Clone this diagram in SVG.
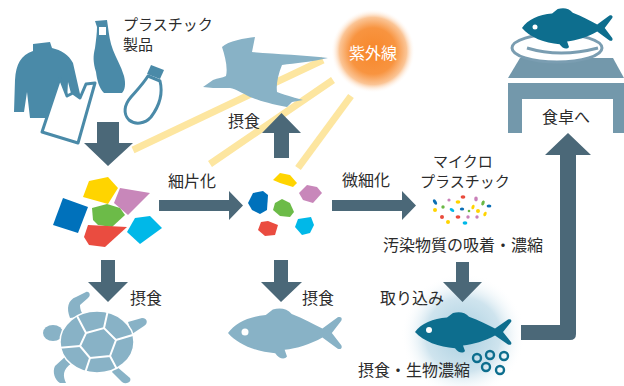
<svg xmlns="http://www.w3.org/2000/svg" width="624" height="386" viewBox="0 0 624 386">
  <defs>
    <style>
      text { font-family: "Noto Sans CJK JP", "Noto Sans", sans-serif; fill: #2b2b2b; }
      .lbl { font-size: 16px; }
      .sm { font-size: 15px; }
      .arrow { fill: #4b6878; }
      .ray { stroke: #fde6a0; stroke-width: 7; stroke-linecap: butt; }
      .prod { fill: #4a8aa8; }
      .prodline { fill: #fff; stroke: #4a8aa8; stroke-width: 3; stroke-linejoin: round; }
      .pale { fill: #88b2c6; }
      .teal { fill: #0d6e8e; }
      .eye { fill: #fff; }
      .bubble { fill: none; stroke: #0d6e8e; stroke-width: 2.4; }
    </style>
    <radialGradient id="sunGrad" cx="0.5" cy="0.5" r="0.5">
      <stop offset="0" stop-color="#f7872a"/>
      <stop offset="0.55" stop-color="#f89440"/>
      <stop offset="0.8" stop-color="#fbc596"/>
      <stop offset="1" stop-color="#ffffff" stop-opacity="0"/>
    </radialGradient>
    <radialGradient id="glowGrad" cx="0.5" cy="0.5" r="0.5">
      <stop offset="0" stop-color="#a9cfe0"/>
      <stop offset="0.6" stop-color="#cfe4ee"/>
      <stop offset="1" stop-color="#ffffff" stop-opacity="0"/>
    </radialGradient>
    <!-- fish silhouette facing left, nose at origin -->
    <path id="fish" d="M0,0 C6,-9 18,-15 32,-16 L38,-21 C44,-23 50,-22 54,-17 C64,-13 72,-8 80,-4 L93,-14 C96,-15 97,-13 96,-11 L88,0 L96,11 C97,13 96,15 93,14 L80,4 C70,10 58,14 48,15 L50,21 C48,24 43,23 40,18 C24,17 8,10 0,0 Z"/>
    <clipPath id="shellClip"><ellipse cx="97" cy="342" rx="37" ry="31"/></clipPath>
  </defs>

  <!-- sunlight rays -->
  <g id="rays">
    <line class="ray" x1="133" y1="150" x2="323" y2="60"/>
    <line class="ray" x1="210" y1="164" x2="333" y2="80"/>
    <line class="ray" x1="298" y1="168" x2="351" y2="96"/>
  </g>

  <g id="sun">
    <circle cx="373" cy="51" r="42" fill="url(#sunGrad)"/>
    <text x="373" y="59" font-size="16" text-anchor="middle" style="fill:#fff">紫外線</text>
  </g>

  <g id="products">
    <!-- turtleneck shirt -->
    <path class="prod" d="M33,44 L50,42 L52,48 C61,50 69,55 73,63 L80,94 L80,101 L73,101 L68,82 L66,118 L30,118 L27,92 L24,112 L14,112 L15,80 C16,64 21,55 33,51 Z"/>
    <!-- carrier bag -->
    <path class="prodline" d="M60,78 L67,96 L73,93 L80,98 L86,84 L95,83 L78,143 L42,132 Z"/>
    <!-- soda bottle -->
    <path class="prod" d="M95,21 L107,20 L108,27 C109,35 110,42 113,50 C116,58 121,66 124,76 C126,84 125,90 122,93 L104,93 C99,88 97,80 96,72 C93,62 93,56 95,48 C96,40 97,33 97,27 Z"/>
    <rect x="99" y="27" width="7" height="8" fill="#fff"/>
    <!-- PET bottle -->
    <path class="prodline" d="M148,76 L160,81 C163,93 160,105 151,117 C145,124 135,125 129,120 C123,114 124,105 131,97 C138,89 143,84 148,76 Z" stroke-width="3.5"/>
    <polygon class="prod" points="151,65 164,70 160,79 147,74"/>
    <text class="sm" x="123" y="30">プラスチック</text>
    <text class="sm" x="123" y="50">製品</text>
  </g>

  <g id="seagull">
    <path class="pale" d="M203,87 L213,80 C218,78 222,78 226,76 C228,68 225,56 222,47 C228,41 245,38 255,37 L252,52 C275,54 305,55 328,58 C312,62 295,63 282,65 C278,75 276,84 277,92 C288,96 296,98 303,100 L292,102 L287,107 C270,104 258,100 250,97 C242,93 236,89 230,88 L213,88 Z"/>
  </g>

  <g id="fragments">
    <polygon fill="#ffd400" points="89,181 108,177 118,188 108,204 83,197"/>
    <polygon fill="#c887ba" points="120,188 150,193 128,215 114,203"/>
    <polygon fill="#0071bb" points="63,198 88,207 78,233 53,225"/>
    <polygon fill="#6cbb48" points="92,208 107,204 120,208 125,215 112,227 98,225 93,220"/>
    <polygon fill="#ea4c40" points="88,225 127,227 105,247 89,245 84,237"/>
    <polygon fill="#00b8e8" points="135,218 150,216 162,228 140,244 127,232"/>
  </g>

  <g id="small-fragments">
    <polygon fill="#ffd400" points="280,173 290,175 297,183 293,187 280,183 273,180"/>
    <polygon fill="#c887ba" points="307,185 317,187 322,193 313,203 303,200 299,193"/>
    <polygon fill="#0071bb" points="253,193 263,191 268,195 267,210 260,214 252,210 248,203"/>
    <polygon fill="#6cbb48" points="275,203 282,199 290,203 294,212 290,217 280,216 273,210"/>
    <polygon fill="#ea4c40" points="261,222 268,221 278,225 275,235 265,236 258,230"/>
    <polygon fill="#00b8e8" points="298,219 311,217 314,225 310,233 302,235 295,227"/>
  </g>

  <g id="microplastics">
    <text class="sm" x="433" y="167">マイクロ</text>
    <text class="sm" x="420" y="187">プラスチック</text>
    <ellipse fill="#0a6eb4" cx="435" cy="202" rx="1.6" ry="3" transform="rotate(-30 435 202)"/>
    <circle fill="#c980b8" cx="449" cy="200" r="1.6"/>
    <ellipse fill="#ffd400" cx="458" cy="202" rx="2.4" ry="1.8"/>
    <ellipse fill="#e94b3c" cx="463" cy="197" rx="2.4" ry="1.8"/>
    <ellipse fill="#c980b8" cx="476" cy="199" rx="1.8" ry="2.4"/>
    <ellipse fill="#6ab845" cx="483" cy="203" rx="1.6" ry="2.6" transform="rotate(20 483 203)"/>
    <ellipse fill="#0a6eb4" cx="489" cy="206" rx="2.4" ry="1.5"/>
    <circle fill="#ffd400" cx="435" cy="210" r="2"/>
    <circle fill="#6ab845" cx="443" cy="207" r="1.7"/>
    <ellipse fill="#00b8e8" cx="452" cy="210" rx="2.6" ry="1.6" transform="rotate(35 452 210)"/>
    <ellipse fill="#0a6eb4" cx="462" cy="209" rx="2.2" ry="1.5"/>
    <circle fill="#6ab845" cx="469" cy="211" r="1.3"/>
    <ellipse fill="#ffd400" cx="473" cy="207" rx="1.5" ry="2.4" transform="rotate(20 473 207)"/>
    <circle fill="#ffd400" cx="478" cy="211" r="2"/>
    <ellipse fill="#ffd400" cx="485" cy="214" rx="1.5" ry="2.4" transform="rotate(25 485 214)"/>
    <circle fill="#e94b3c" cx="442" cy="217" r="2"/>
    <circle fill="#ffd400" cx="448" cy="222" r="2"/>
    <ellipse fill="#e94b3c" cx="458" cy="217" rx="2.4" ry="1.8"/>
    <circle fill="#c980b8" cx="468" cy="217" r="1.7"/>
    <circle fill="#c980b8" cx="477" cy="217" r="1.7"/>
    <ellipse fill="#00b8e8" cx="465" cy="223" rx="2.4" ry="1.8"/>
  </g>

  <g id="table">
    <polygon fill="#7398ab" points="520,58 613,58 624,78 508,78"/>
    <path fill="#7398ab" d="M508,83 H624 V133 H613 V99 H522 V133 H508 Z"/>
    <ellipse cx="557" cy="48" rx="45" ry="14" fill="#fff" stroke="#7a9db1" stroke-width="3"/>
    <path d="M527,48 Q560,58 598,48" fill="none" stroke="#7a9db1" stroke-width="3"/>
    <use href="#fish" class="teal" transform="translate(522,28) scale(0.94,0.9)"/>
    <circle class="eye" cx="535" cy="27" r="2.5"/>
    <text class="lbl" x="542" y="123">食卓へ</text>
  </g>

  <g id="turtle">
    <path class="pale" d="M70,318 C66,308 68,300 76,297 L86,292 C90,291 91,296 88,298 L80,305 C80,310 82,314 85,316 Z"/>
    <ellipse class="pale" cx="53" cy="333" rx="10" ry="8"/>
    <path class="pale" d="M128,322 L142,318 C148,318 148,324 144,326 L132,334 Z"/>
    <path class="pale" d="M66,356 L55,366 C52,372 55,380 60,383 L66,383 C63,376 62,370 72,363 Z"/>
    <path class="pale" d="M116,366 L130,378 C132,382 126,385 122,382 L112,372 Z"/>
    <ellipse class="pale" cx="97" cy="342" rx="37" ry="31" stroke="#fff" stroke-width="1.5"/>
    <g clip-path="url(#shellClip)" fill="none" stroke="#fff" stroke-width="2">
      <polygon points="86,333 104,328 116,340 110,356 90,358 80,346"/>
      <path d="M86,333 L76,314 M104,328 L108,310 M116,340 L136,334 M110,356 L120,375 M90,358 L84,376 M80,346 L58,348"/>
    </g>
  </g>

  <g id="fish-wild">
    <use href="#fish" class="pale" transform="translate(228,333) scale(1.18,1.12)"/>
    <circle class="eye" cx="245" cy="332" r="3.5"/>
  </g>

  <g id="fish-concentrated">
    <circle cx="463" cy="335" r="62" fill="url(#glowGrad)"/>
    <use href="#fish" class="teal" transform="translate(415,332) scale(1,0.9)"/>
    <circle class="eye" cx="429" cy="330" r="3"/>
    <circle class="bubble" cx="477" cy="358" r="4"/>
    <circle class="bubble" cx="490" cy="355" r="4"/>
    <circle class="bubble" cx="504" cy="356" r="4"/>
    <circle class="bubble" cx="486" cy="367" r="4"/>
    <circle class="bubble" cx="500" cy="370" r="4"/>
  </g>

  <g id="connectors">
    <path class="arrow" d="M97,122 H119 V143 H133 L108,166 L84,143 H97 Z"/>
    <path class="arrow" d="M159,200 H229 V191 L243,205.5 L229,220 V211 H159 Z"/>
    <path class="arrow" d="M274,158 V133 H262 L281.5,113 L301,133 H289 V158 Z"/>
    <path class="arrow" d="M332,200 H402 V191 L416,205.5 L402,220 V211 H332 Z"/>
    <path class="arrow" d="M101,260 H115 V282 H128 L108,302 L88,282 H101 Z"/>
    <path class="arrow" d="M274,260 H288 V282 H302 L281,302 L261,282 H274 Z"/>
    <path class="arrow" d="M456,262 H469 V282 H482 L462.5,302 L443,282 H456 Z"/>
    <path class="arrow" d="M521,325 H560 V155 H545 L568,133 L591,155 H576 V334 Q576,340 570,340 H521 Z"/>
    <text class="lbl" x="228" y="127">摂食</text>
    <text class="lbl" x="168" y="187">細片化</text>
    <text class="lbl" x="342" y="186">微細化</text>
    <text class="lbl" x="383" y="251">汚染物質の吸着・濃縮</text>
    <text class="lbl" x="130" y="304">摂食</text>
    <text class="lbl" x="302" y="304">摂食</text>
    <text class="lbl" x="380" y="304" font-size="15.5">取り込み</text>
    <text class="lbl" x="358" y="376" font-size="15.5">摂食・生物濃縮</text>
  </g>
</svg>
